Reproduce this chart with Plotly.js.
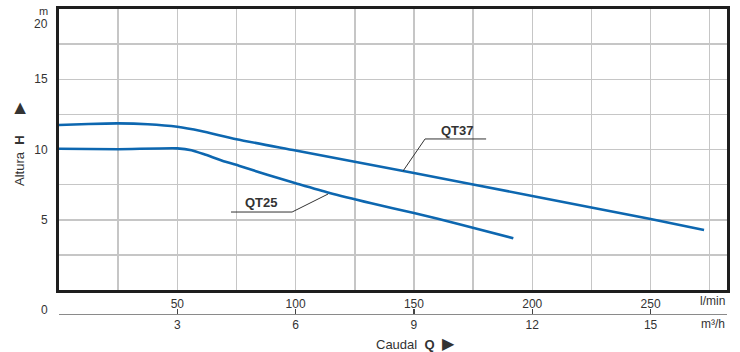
<!DOCTYPE html>
<html>
<head>
<meta charset="utf-8">
<script src="https://cdn.plot.ly/plotly-3.0.1.min.js"></script>
<style>html,body{margin:0;padding:0;background:#fff;}#chart{width:740px;height:352px;}</style>
</head>
<body>
<div id="chart"></div>
<script>
// ---- data (flow in l/min, head in m) ----
var qt37Flow = [0, 12.5, 25, 37.5, 50, 60, 75, 100, 150, 200, 250, 272.6];
var qt37Head = [11.74, 11.82, 11.86, 11.8, 11.62, 11.32, 10.73, 9.93, 8.33, 6.69, 5.05, 4.27];

var qt25Flow = [0, 25, 50, 56, 62, 69, 76, 88, 100, 114, 132, 150, 170, 192];
var qt25Head = [10.05, 10.02, 10.08, 9.95, 9.62, 9.2, 8.85, 8.2, 7.6, 6.92, 6.17, 5.48, 4.65, 3.68];

var flowTicksLpm = [50, 100, 150, 200, 250];
var flowTickLabelsLpm = ['50', '100', '150', '200', '250'];
var flowTickLabelsM3h = ['3', '6', '9', '12', '15'];

var headGridVals = [2.5, 5, 7.5, 10, 12.5, 15, 17.5];
var headLabelVals = [5, 10, 15];
var headLabels = ['5', '10', '15'];

var seriesNames = ['QT37', 'QT25'];

// ---- styling ----
var blue = '#0d67b0';
var txt = '#333333';
var gridc = '#c6c6c6';
var font = 'Liberation Sans, Arial, Helvetica, sans-serif';
var xMax = 282.3;
var NB = '\u00a0';

var headTickText = headGridVals.map(function (v) {
  var i = headLabelVals.indexOf(v);
  return i >= 0 ? headLabels[i] : '';
});

var traces = [
  {x: qt37Flow, y: qt37Head, mode: 'lines', name: seriesNames[0],
   line: {color: blue, width: 2.6, shape: 'spline', smoothing: 0.6}, hoverinfo: 'skip'},
  {x: qt25Flow, y: qt25Head, mode: 'lines', name: seriesNames[1],
   line: {color: blue, width: 2.6, shape: 'spline', smoothing: 0.6}, hoverinfo: 'skip'},
  {x: flowTicksLpm, y: flowTicksLpm.map(function () { return null; }), xaxis: 'x2', yaxis: 'y',
   mode: 'markers', showlegend: false, hoverinfo: 'skip'},
  {x: flowTicksLpm, y: flowTicksLpm.map(function () { return null; }), xaxis: 'x3', yaxis: 'y',
   mode: 'markers', showlegend: false, hoverinfo: 'skip'}
];

function py(p) { return (332 - p) / 323; }
function px(p) { return (p - 59) / 668; }
var secPos = py(313.5);
var yDomBottom = py(290);

function note(text, x, y, extra) {
  var a = {text: text, xref: 'paper', yref: 'paper', x: x, y: y, showarrow: false,
           xanchor: 'center', yanchor: 'middle'};
  for (var k in extra) a[k] = extra[k];
  return a;
}

var layout = {
  width: 740, height: 352,
  margin: {l: 59, r: 13, t: 9, b: 20},
  paper_bgcolor: '#ffffff', plot_bgcolor: '#ffffff',
  showlegend: false,
  font: {family: font, size: 12, color: txt},
  xaxis: {
    range: [0, xMax], tickmode: 'linear', tick0: 0, dtick: 25,
    showticklabels: false, ticks: '',
    showgrid: true, gridcolor: gridc, gridwidth: 1.5, zeroline: false,
    showline: true, mirror: true, linecolor: '#1e1e1e', linewidth: 3,
    anchor: 'y', fixedrange: true
  },
  xaxis2: {
    overlaying: 'x', anchor: 'free', position: secPos, side: 'bottom',
    range: [0, xMax], tickmode: 'array', tickvals: flowTicksLpm, ticktext: flowTickLabelsM3h,
    ticks: '', showgrid: false, zeroline: false,
    showline: true, linecolor: '#8a8a8a', linewidth: 1.5,
    tickfont: {family: font, size: 12, color: txt}
  },
  xaxis3: {
    overlaying: 'x', anchor: 'free', position: secPos, side: 'top',
    range: [0, xMax], tickmode: 'array', tickvals: flowTicksLpm, ticktext: flowTickLabelsLpm,
    ticks: 'outside', ticklen: 5, tickwidth: 1.5, tickcolor: '#444', ticklabelstandoff: -4,
    showgrid: false, zeroline: false, showline: false,
    tickfont: {family: font, size: 12, color: txt}
  },
  yaxis: {
    domain: [yDomBottom, 1],
    range: [0, 20], tickmode: 'array', tickvals: headGridVals, ticktext: headTickText,
    ticks: '', ticklabelstandoff: 6,
    showgrid: true, gridcolor: gridc, gridwidth: 1.5, zeroline: false,
    showline: true, mirror: true, linecolor: '#1e1e1e', linewidth: 3,
    tickfont: {family: font, size: 12, color: txt}, fixedrange: true
  },
  shapes: [
    // QT37 leader
    {type: 'line', xref: 'x', yref: 'y', x0: 154.7, y0: 10.75, x1: 180.5, y1: 10.75, line: {color: '#333', width: 1}},
    {type: 'line', xref: 'x', yref: 'y', x0: 154.7, y0: 10.75, x1: 145.4, y1: 8.47, line: {color: '#333', width: 1}},
    // QT25 leader
    {type: 'line', xref: 'x', yref: 'y', x0: 72.7, y0: 5.55, x1: 98.5, y1: 5.55, line: {color: '#333', width: 1}},
    {type: 'line', xref: 'x', yref: 'y', x0: 98.5, y0: 5.55, x1: 113.7, y1: 6.83, line: {color: '#333', width: 1}}
  ],
  annotations: [
    {text: '<b>' + seriesNames[0] + '</b>', xref: 'x', yref: 'y', x: 168.6, y: 11.32, showarrow: false,
     xanchor: 'center', yanchor: 'middle', font: {family: font, size: 13, color: txt}},
    {text: '<b>' + seriesNames[1] + '</b>', xref: 'x', yref: 'y', x: 85.4, y: 6.26, showarrow: false,
     xanchor: 'center', yanchor: 'middle', font: {family: font, size: 13, color: txt}},
    note('20', px(50), py(24), {xanchor: 'right'}),
    note('m', px(50), py(10.5), {xanchor: 'right', font: {family: font, size: 11, color: txt}}),
    note('0', px(50), py(310), {xanchor: 'right'}),
    note('l/min', 1, py(301), {xanchor: 'right'}),
    note('m³/h', 1, py(324), {xanchor: 'right'}),
    note('Caudal' + NB + NB + '<b>Q</b>' + NB + NB + '<span style="font-size:16px">▶</span>', px(415), py(343),
         {font: {family: font, size: 13, color: txt}}),
    note('Altura' + NB + NB + '<b>H</b>' + NB + NB + NB + NB + NB + NB + '<span style="font-size:15px">▶</span>',
         px(18), py(144), {textangle: -90, font: {family: font, size: 13, color: txt}})
  ]
};

Plotly.newPlot('chart', traces, layout, {staticPlot: true, displayModeBar: false});
</script>
</body>
</html>
